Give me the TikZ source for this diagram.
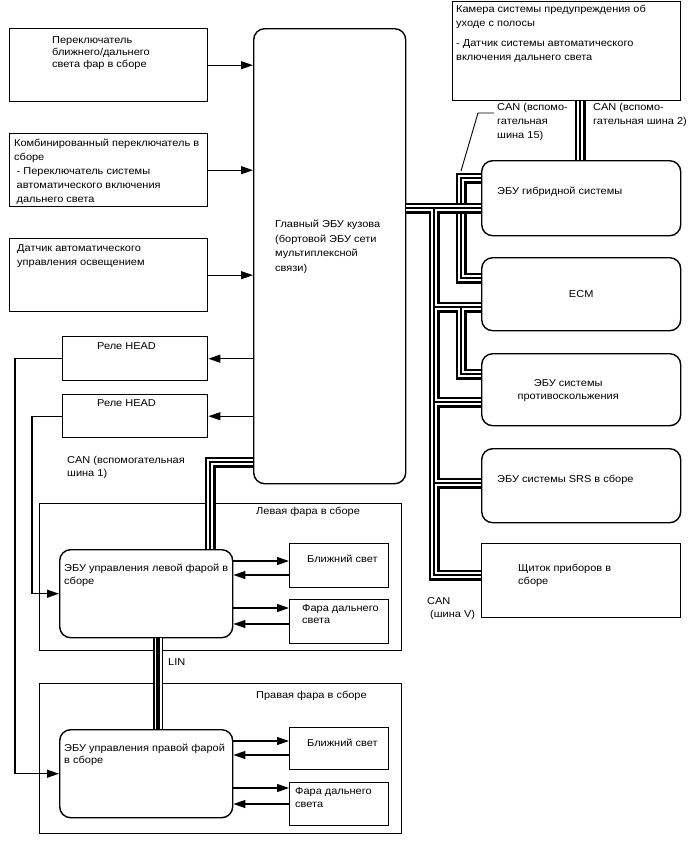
\documentclass[tikz,border=0pt]{standalone}
\usepackage{fontspec}
\setmainfont{Liberation Sans}[FakeStretch=1.1]
\usetikzlibrary{arrows.meta,calc}

\newcommand\lbl{\fontsize{10}{13}\selectfont}

\tikzset{
  blk/.style={draw, line width=1.4pt, inner sep=0pt, anchor=north west},
  ecu/.style={blk, rounded corners=11pt},
  txt/.style={anchor=north west, inner sep=0pt, align=left, font=\lbl},
  sig/.style={line width=1.1pt, -{Triangle[length=12pt,width=8pt]}},
  canbus/.style={line width=2pt, preaction={draw, line width=11pt}, preaction={draw=white, line width=6pt}},
  linbus/.style={line width=3.5pt, preaction={draw, line width=10pt}, preaction={draw=white, line width=7pt}},
}

\begin{document}
\begin{tikzpicture}[x=1pt, y=-1pt]
        \useasboundingbox (0,0) rectangle (688,852);
        % switches and sensor
        \node[blk, minimum width=198pt, minimum height=73pt] (beamsw) at (9,28) {};
        \node[blk, minimum width=198pt, minimum height=73pt] (combsw) at (9,133) {};
        \node[blk, minimum width=198pt, minimum height=73pt] (lightsen) at (9,238) {};
        \node[ecu, minimum width=152pt, minimum height=455pt] (mainecu) at (253,28) {};
        \node[blk, minimum width=145pt, minimum height=44pt] (relayA) at (62,336) {};
        \node[blk, minimum width=145pt, minimum height=43pt] (relayB) at (62,394) {};
        % right column
        \node[blk, minimum width=228pt, minimum height=99pt] (camera) at (452,1) {};
        \node[ecu, minimum width=199pt, minimum height=75pt] (hybrid) at (481,160) {};
        \node[ecu, minimum width=199pt, minimum height=73pt] (ecm) at (481,257) {};
        \node[ecu, minimum width=199pt, minimum height=72pt] (collision) at (481,353) {};
        \node[ecu, minimum width=199pt, minimum height=74pt] (srs) at (481,448) {};
        \node[blk, minimum width=199pt, minimum height=74pt] (meter) at (481,543) {};
        % headlamps
        \node[blk, minimum width=362pt, minimum height=147pt] (lhouse) at (39,503) {};
        \node[ecu, minimum width=173pt, minimum height=88pt] (lhecu) at (59,549) {};
        \node[blk, minimum width=99pt, minimum height=44pt] (lowL) at (289,543) {};
        \node[blk, minimum width=99pt, minimum height=44pt] (highL) at (289,599) {};
        \node[blk, minimum width=362pt, minimum height=150pt] (rhouse) at (39,683) {};
        \node[ecu, minimum width=173pt, minimum height=88pt] (rhecu) at (59,729) {};
        \node[blk, minimum width=99pt, minimum height=42pt] (lowR) at (289,727) {};
        \node[blk, minimum width=99pt, minimum height=43pt] (highR) at (289,782) {};

        % texts
        \node[txt, font=\fontsize{10}{12}\selectfont] (beamswtxt) at (52,36) {Переключатель\\ближнего/дальнего\\света фар в сборе};
        \node[txt, font=\fontsize{10}{14}\selectfont] (combswtxt) at (14,139) {Комбинированный переключатель в\\сборе\\\hspace*{2.5pt}- Переключатель системы\\\hspace*{2.5pt}автоматического включения\\\hspace*{2.5pt}дальнего света};
        \node[txt, font=\fontsize{10}{14}\selectfont] (lightsentxt) at (17,244) {Датчик автоматического\\управления освещением};
        \node[txt, font=\fontsize{10}{14.5}\selectfont] (mainecutxt) at (275,220) {Главный ЭБУ кузова\\(бортовой ЭБУ сети\\мультиплексной\\связи)};
        \node[txt] (relayAtxt) at (97,342) {Реле HEAD};
        \node[txt] (relayBtxt) at (97,399) {Реле HEAD};
        \node[txt, font=\fontsize{10}{14}\selectfont] (cameratxt) at (456,5) {Камера системы предупреждения об\\уходе с полосы\\[6pt]- Датчик системы автоматического\\включения дальнего света};
        \node[txt, font=\fontsize{10}{14}\selectfont] (bus15txt) at (497,103) {CAN (вспомо-\\гательная\\шина 15)};
        \node[txt, font=\fontsize{10}{14}\selectfont] (bus2txt) at (593,103) {CAN (вспомо-\\гательная шина 2)};
        \node[txt] (hybridtxt) at (497,187) {ЭБУ гибридной системы};
        \node[font=\lbl, inner sep=0pt] (ecmtxt) at (ecm) {ECM};
        \node[font=\lbl, inner sep=0pt, align=center] (collisiontxt) at ($(collision.center)+(-13,1)$) {ЭБУ системы\\противоскольжения};
        \node[txt] (srstxt) at (497,475) {ЭБУ системы SRS в сборе};
        \node[txt] (metertxt) at (518,564) {Щиток приборов в\\сборе};
        \node[txt] (busVtxt) at (427,597) {CAN\\\hspace*{3pt}(шина V)};
        \node[txt] (bus1txt) at (67,456) {CAN (вспомогательная\\шина 1)};
        \node[txt] (lhousetxt) at (256,507) {Левая фара в сборе};
        \node[txt] (lhecutxt) at (64,564) {ЭБУ управления левой фарой в\\сборе};
        \node[txt] (lowLtxt) at (307,555) {Ближний свет};
        \node[txt, font=\fontsize{10}{12.5}\selectfont] (highLtxt) at (302,604) {Фара дальнего\\света};
        \node[txt] (lintxt) at (168,658) {LIN};
        \node[txt] (rhousetxt) at (256,691) {Правая фара в сборе};
        \node[txt, font=\fontsize{10}{12}\selectfont] (rhecutxt) at (64,744) {ЭБУ управления правой фарой\\в сборе};
        \node[txt] (lowRtxt) at (307,739) {Ближний свет};
        \node[txt] (highRtxt) at (295,787) {Фара дальнего\\света};

        % signal lines
        \draw[sig] (beamsw.east) -- (beamsw.east -| mainecu.west);
        \draw[sig] (combsw.east) -- (combsw.east -| mainecu.west);
        \draw[sig] (lightsen.east) -- (lightsen.east -| mainecu.west);
        \draw[sig] (relayA.east -| mainecu.west) -- (relayA.east);
        \draw[sig] (relayB.east -| mainecu.west) -- (relayB.east);
        \draw[sig] (relayA.west) -- ++(-47,0) |- (rhecu.west);
        \draw[sig] (relayB.west) -- ++(-30,0) |- (lhecu.west);
        \draw[sig] (lhecu.east |- 0,561) -- (lowL.west |- 0,561);
        \draw[sig] (lowL.west |- 0,575) -- (lhecu.east |- 0,575);
        \draw[sig] (lhecu.east |- 0,608) -- (highL.west |- 0,608);
        \draw[sig] (highL.west |- 0,624) -- (lhecu.east |- 0,624);
        \draw[sig] (rhecu.east |- 0,741) -- (lowR.west |- 0,741);
        \draw[sig] (lowR.west |- 0,755) -- (rhecu.east |- 0,755);
        \draw[sig] (rhecu.east |- 0,788) -- (highR.west |- 0,788);
        \draw[sig] (highR.west |- 0,804) -- (rhecu.east |- 0,804);

        % buses
        \draw[canbus] (hybrid.west |- 0,178) -- (461,178) -- (461,278) -- (ecm.west |- 0,278);
        \draw[canbus] (mainecu.east |- 0,208) -- (hybrid.west |- 0,208)
            (434,208) -- (434,575) -- (meter.west |- 0,575)
            (434,307) -- (ecm.west |- 0,307)
            (434,402) -- (collision.west |- 0,402)
            (434,483) -- (srs.west |- 0,483)
            (461,307) -- (461,374) -- (collision.west |- 0,374);
        \draw[canbus] (camera.south -| 580,0) -- (hybrid.north -| 580,0);
        \draw[canbus] (mainecu.west |- 0,462) -- (210,462) -- (lhecu.north -| 210,0);
        \draw[linbus] (lhecu.south -| 158,0) -- (rhecu.north -| 158,0);
        \coordinate (bus15tip) at (461,171);
        \draw[line width=0.9pt] (bus15tip) -- (478,113) -- (494,113);
    \end{tikzpicture}
\end{document}
